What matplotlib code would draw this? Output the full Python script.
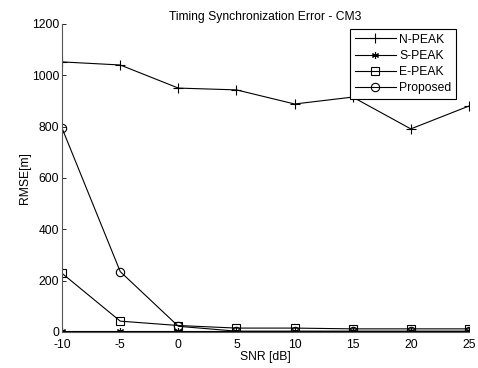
import matplotlib
matplotlib.use("Agg")
import matplotlib.pyplot as plt

plt.rcParams['font.family'] = ['Liberation Sans', 'DejaVu Sans']
plt.rcParams['axes.unicode_minus'] = False

snr = [-10, -5, 0, 5, 10, 15, 20, 25]
n_peak = [1052, 1040, 950, 943, 888, 915, 791, 880]
s_peak = [2, 2, 2, 2, 2, 2, 2, 2]
e_peak = [228, 42, 25, 15, 15, 12, 12, 12]
proposed = [793, 235, 22, 3, 3, 3, 3, 3]

fig = plt.figure(figsize=(4.78, 3.68), dpi=100)
ax = fig.add_axes([0.13, 0.098, 0.851, 0.837])

ax.plot(snr, n_peak, 'k-', marker='+', ms=7, mew=0.8, lw=0.8, label='N-PEAK')
ax.plot(snr, s_peak, 'k-', marker=(6, 2, 0), ms=5, mew=0.8, lw=0.8, label='S-PEAK')
ax.plot(snr, e_peak, 'k-', marker='s', mfc='none', ms=6, mew=0.8, lw=0.8, label='E-PEAK')
ax.plot(snr, proposed, 'k-', marker='o', mfc='none', ms=6, mew=0.8, lw=0.8, label='Proposed')

ax.set_xlim(-10, 25)
ax.set_ylim(0, 1200)
ax.set_xticks(snr)
ax.set_yticks([0, 200, 400, 600, 800, 1000, 1200])
ax.tick_params(direction='in', labelsize=8.7, length=3, width=0.6, pad=2)
ax.tick_params(axis='x', pad=5)
ax.spines['top'].set_visible(False)
ax.spines['right'].set_visible(False)
for s in ['left', 'bottom']:
    ax.spines[s].set_linewidth(0.8)
    ax.spines[s].set_color('#555555')

ax.set_title('Timing Synchronization Error - CM3', fontsize=8.7, pad=3)
ax.set_xlabel('SNR [dB]', fontsize=8.7, labelpad=0)
ax.set_ylabel('RMSE[m]', fontsize=8.7, labelpad=1)

leg = ax.legend(loc='upper right', bbox_to_anchor=(0.968, 0.982), borderaxespad=0,
                fontsize=8.7, fancybox=False, framealpha=1, edgecolor='black',
                handlelength=3.4, borderpad=0.35, labelspacing=0.35, handletextpad=0.3)
leg.get_frame().set_linewidth(0.8)

fig.savefig('out.png', dpi=100)
